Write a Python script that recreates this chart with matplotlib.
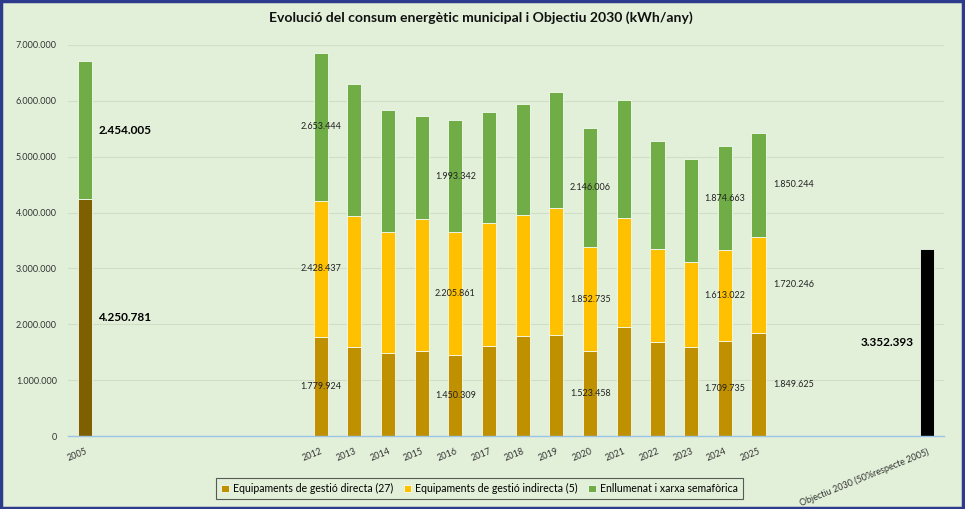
import matplotlib.pyplot as plt
import matplotlib.ticker as mticker
import numpy as np

plt.rcParams['font.family'] = ['Lato', 'DejaVu Sans']

# data (kWh/any)
years      = [2012, 2013, 2014, 2015, 2016, 2017, 2018, 2019, 2020, 2021, 2022, 2023, 2024, 2025]
directa    = [1779924, 1588000, 1490000, 1527000, 1450309, 1617000, 1796000, 1808000, 1523458, 1957000, 1677000, 1593000, 1709735, 1849625]
indirecta  = [2428437, 2352000, 2167000, 2358000, 2205861, 2196000, 2160000, 2272000, 1852735, 1951000, 1665000, 1527000, 1613022, 1720246]
enllumenat = [2653444, 2360000, 2179000, 1835000, 1993342, 1987000, 1994000, 2084000, 2146006, 2107000, 1945000, 1833000, 1874663, 1850244]
base_2005       = 4250781
enllumenat_2005 = 2454005
objectiu_2030   = 3352393
objectiu_label  = 'Objectiu 2030 (50%respecte 2005)'
labelled_years  = [2012, 2016, 2020, 2024, 2025]

c_base = '#7F6000'
c_dir = '#BF9000'
c_ind = '#FFC000'
c_enl = '#70AD47'
bg = '#E2F0D9'

def fmt(v):
    return f'{v:,.0f}'.replace(',', '.')

fig = plt.figure(figsize=(9.65, 5.09), dpi=100, facecolor=bg)
ax = fig.add_axes([0.0705, 0.1434, 0.9075, 0.7682], facecolor=bg)

w = 0.42
ec = dict(edgecolor='#F4FAF0', linewidth=0.6)
x = np.array(years) - 2005
d = np.array(directa)
i = np.array(indirecta)
e = np.array(enllumenat)

ax.bar(0, base_2005, w, color=c_base, **ec, zorder=3)
ax.bar(0, enllumenat_2005, w, bottom=base_2005, color=c_enl, **ec, zorder=3)
b1 = ax.bar(x, d, w, color=c_dir, **ec, zorder=3, label='Equipaments de gestió directa (27)')
b2 = ax.bar(x, i, w, bottom=d, color=c_ind, **ec, zorder=3, label='Equipaments de gestió indirecta (5)')
b3 = ax.bar(x, e, w, bottom=d + i, color=c_enl, **ec, zorder=3, label='Enllumenat i xarxa semafòrica')
ax.bar(25, objectiu_2030, w, color='black', **ec, zorder=3)

# labels
ax.text(0.4, base_2005 / 2, fmt(base_2005), fontsize=8.5, fontweight='bold', va='center', ha='left')
ax.text(0.4, base_2005 + enllumenat_2005 / 2, fmt(enllumenat_2005), fontsize=8.5, fontweight='bold', va='center', ha='left')
ax.text(24.6, objectiu_2030 / 2, fmt(objectiu_2030), fontsize=8.5, fontweight='bold', va='center', ha='right')
for k, yr in enumerate(years):
    if yr not in labelled_years:
        continue
    xp = x[k]
    ha = 'center'
    if yr == 2025:
        xp = x[k] + 0.45
        ha = 'left'
    for val, bot in [(d[k], 0), (i[k], d[k]), (e[k], d[k] + i[k])]:
        ax.text(xp, bot + val / 2, fmt(val), fontsize=6.5, va='center', ha=ha, color='#222222', zorder=4)

ax.set_xlim(-0.5, 25.5)
ax.set_ylim(0, 7000000)
ax.yaxis.set_major_locator(mticker.MultipleLocator(1000000))
ax.yaxis.set_major_formatter(mticker.FuncFormatter(lambda v, p: fmt(v)))
ax.grid(axis='y', color='#D0DEC8', linewidth=0.8, zorder=0)

ticks = [0] + list(x) + [25]
tlabels = ['2005'] + [str(y) for y in years] + [objectiu_label]
ax.set_xticks(ticks)
ax.set_xticklabels(tlabels, rotation=22, ha='right', rotation_mode='anchor', fontsize=6.5, color='#333333')
ax.tick_params(axis='x', length=0, pad=8)
ax.tick_params(axis='y', length=0, labelsize=6.5, labelcolor='#333333', pad=8)
for s in ['top', 'right', 'left']:
    ax.spines[s].set_visible(False)
ax.spines['bottom'].set_color('#9DC3E6')
ax.spines['bottom'].set_linewidth(1.0)
ax.spines['bottom'].set_zorder(5)

fig.text(0.4985, 0.965, 'Evolució del consum energètic municipal i Objectiu 2030 (kWh/any)',
         ha='center', va='center', fontsize=10.1, fontweight='bold', color='#111111')

leg = fig.legend(handles=[b1, b2, b3], loc='center', bbox_to_anchor=(0.497, 0.04), ncol=3,
                 fontsize=7.6, frameon=True, fancybox=False, handlelength=0.7, handleheight=0.7,
                 handletextpad=0.4, columnspacing=1.0, borderpad=0.5)
leg.get_frame().set_edgecolor('#333333')
leg.get_frame().set_facecolor(bg)
leg.get_frame().set_linewidth(0.8)

# outer border
fig.patches.append(plt.Rectangle((0.001, 0.002), 0.997, 0.996, transform=fig.transFigure,
                                 fill=False, edgecolor='#2E3A8C', linewidth=2.5))

fig.savefig('out.png', dpi=100, facecolor=bg)
